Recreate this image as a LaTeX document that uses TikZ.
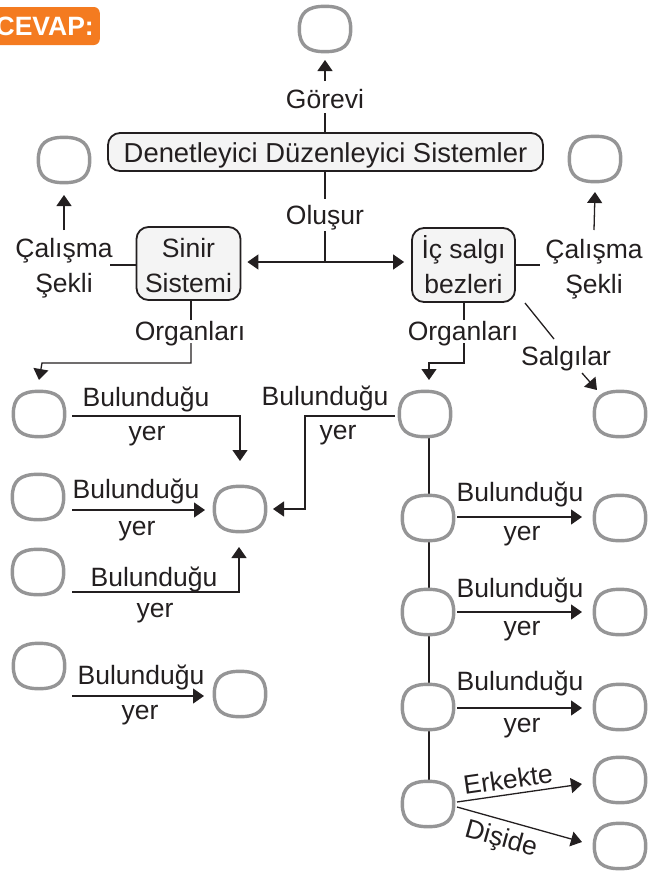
\documentclass[tikz,border=0pt]{standalone}
\usepackage{fontspec}
\setmainfont{Liberation Sans}
\usetikzlibrary{arrows.meta}
\definecolor{txt}{HTML}{231F20}
\definecolor{blobc}{HTML}{959596}
\definecolor{orng}{HTML}{F47B20}
\definecolor{boxfill}{HTML}{F4F4F4}
\begin{document}
\begin{tikzpicture}[x=1pt,y=-1pt,
 lbl/.style={font=\fontsize{26.5}{35}\selectfont, text=txt, inner sep=0pt, anchor=base},
 blob/.style={minimum width=51pt, minimum height=45pt, inner sep=0pt},
 blobline/.style={draw=blobc, line width=3.4pt, fill=white},
 rbox/.style={draw=txt, line width=1.8pt, rounded corners=12pt, fill=boxfill, inner sep=0pt, font=\fontsize{26.5}{35}\selectfont, text=txt, align=center},
 conn/.style={draw=txt, line width=1.3pt},
 arr/.style={conn, -{Triangle[width=15pt,length=11pt]}},
]
\useasboundingbox (0,0) rectangle (652,873);
% answer tag
\node[fill=orng, rounded corners=6pt, text=white, font=\bfseries\fontsize{26.5}{30}\selectfont, inner xsep=6pt, minimum height=38pt, anchor=east] (cevap) at (100,26) {CEVAP:};
% main boxes
\node[rbox, minimum width=435pt, minimum height=38pt, font=\fontsize{27.4}{35}\selectfont] (main) at (325.5,152) {\rule{0pt}{26pt}Denetleyici Düzenleyici Sistemler};
\node[rbox, minimum width=104pt, minimum height=73pt] (sinir) at (188.5,263.5) {\rule{0pt}{24pt}Sinir\\Sistemi};
\node[rbox, minimum width=103pt, minimum height=74pt] (ic) at (463.5,265) {İç salgı\\bezleri};
% vertical line behind right column
\draw[conn] (429,438) -- (429,782);
% blobs
\node[blob] (top) at (325,29) {};
\node[blob] (tl) at (64,160) {};
\node[blob] (tr) at (595,159) {};
\node[blob] (L1) at (39,414) {};
\node[blob] (L2) at (38,497) {};
\node[blob] (L3) at (38,572) {};
\node[blob] (L4) at (39,666) {};
\node[blob] (C) at (240,509) {};
\node[blob] (L4t) at (240,694) {};
\node[blob] (R1) at (425,414) {};
\node[blob] (R2) at (428,518) {};
\node[blob] (R3) at (428,612) {};
\node[blob] (R4) at (428,707) {};
\node[blob] (R5) at (428,804) {};
\node[blob] (S) at (620,414) {};
\node[blob] (T2) at (620,518) {};
\node[blob] (T3) at (620,612) {};
\node[blob] (T4) at (620,707) {};
\node[blob] (Te) at (620,780) {};
\node[blob] (Td) at (620,846) {};
\foreach \n in {top,tl,tr,L1,L2,L3,L4,C,L4t,R1,R2,R3,R4,R5,S,T2,T3,T4,Te,Td}
  \draw[blobline] (\n.north) .. controls +(18,0) and +(0,-16) .. (\n.east)
     .. controls +(0,16) and +(18,0) .. (\n.south)
     .. controls +(-18,0) and +(0,16) .. (\n.west)
     .. controls +(0,-16) and +(-18,0) .. (\n.north) -- cycle;
% labels
\node[lbl] (gorevi) at (325,108) {Görevi};
\node[lbl] (olusur) at (325,224) {Oluşur};
\node[lbl] (cal1) at (64,257) {Çalışma};
\node[lbl] (sek1) at (64,292) {Şekli};
\node[lbl] (cal2) at (594,258) {Çalışma};
\node[lbl] (sek2) at (594,293) {Şekli};
\node[lbl] (org1) at (190,340) {Organları};
\node[lbl] (org2) at (463,340) {Organları};
\node[lbl] (salg) at (566,365) {Salgılar};
\node[lbl] (b1) at (146,406) {Bulunduğu};
\node[lbl] (y1) at (147,440) {yer};
\node[lbl] (b2) at (136,498) {Bulunduğu};
\node[lbl] (y2) at (137,535) {yer};
\node[lbl] (b3) at (154,586) {Bulunduğu};
\node[lbl] (y3) at (155,617) {yer};
\node[lbl] (b4) at (141,684) {Bulunduğu};
\node[lbl] (y4) at (140,719) {yer};
\node[lbl] (b5) at (325,405) {Bulunduğu};
\node[lbl] (y5) at (338,439) {yer};
\node[lbl] (b6) at (520,501) {Bulunduğu};
\node[lbl] (y6) at (522,540) {yer};
\node[lbl] (b7) at (520,597) {Bulunduğu};
\node[lbl] (y7) at (522,635) {yer};
\node[lbl] (b8) at (520,690) {Bulunduğu};
\node[lbl] (y8) at (522,732) {yer};
\node[lbl, anchor=center, rotate=8.2] (erk) at (508,779) {Erkekte};
\node[lbl, anchor=center, rotate=-15.6] (dis) at (501,840) {Dişide};
% connectors top
\draw[arr] (gorevi.north |- 0,81) -- (top.south |- 0,60);
\draw[conn] (gorevi.north |- 0,113) -- (main.north -| gorevi.north);
\draw[conn] (main.south -| olusur.north) -- (olusur.north |- 0,199);
\coordinate (j) at (325,262);
\draw[conn] (olusur.south |- 0,231) -- (j);
\draw[arr] (j) -- ([xshift=6pt]sinir.east |- j);
\draw[arr] (j) -- ([xshift=-7pt]ic.west |- j);
\draw[arr] (cal1.north |- 0,230) -- (tl.south |- 0,195);
\draw[conn] (110,265) -- (sinir.west |- 0,265);
\draw[arr] (cal2.north |- 0,230) -- (tr.south |- 0,192);
\draw[conn] (ic.east |- 0,265) -- (540,265);
% organlari
\draw[conn] (191,300) -- (191,320);
\draw[arr] (191,343) -- (191,363) -- (42,363) -- (L1.north |- 0,380);
\draw[conn] (464,302) -- (464,320);
\draw[arr] (464,343) -- (464,363) -- (429,363) -- (429,380);
% salgilar
\draw[conn] (525,303) -- (554,339);
\draw[arr] (582,373) -- (597,390);
% left column
\draw[arr] (72,416) -- (240,416) -- (C.north |- 0,461);
\draw[arr] (72,510) -- (205,510);
\draw[arr] (72,592) -- (239,592) -- (239,547);
\draw[arr] (72,696) -- (204,696);
\draw[arr] (395,416) -- (305,416) -- (305,509) -- (273,509);
% right column
\draw[arr] (457,517) -- (582,517);
\draw[arr] (457,612) -- (582,612);
\draw[arr] (457,708) -- (582,708);
\draw[arr] (457,802) -- (582,784);
\draw[arr] (457,807) -- (582,842);
\end{tikzpicture}
\end{document}
